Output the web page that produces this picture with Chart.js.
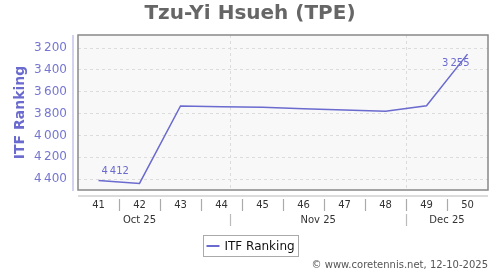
<!DOCTYPE html>
<html>
<head>
<meta charset="utf-8">
<script src="https://cdn.jsdelivr.net/npm/chart.js@4.4.1/dist/chart.umd.min.js"></script>
<style>
  html, body { margin: 0; padding: 0; background: #fff; }
  #wrap { width: 500px; height: 270px; }
</style>
</head>
<body>
<div id="wrap"><canvas id="rankChart"></canvas></div>
<script>
const weeks = ['41', '42', '43', '44', '45', '46', '47', '48', '49', '50'];
const ranking = [4412, 4440, 3730, 3737, 3742, 3755, 3768, 3778, 3728, 3255];
const yTicks = [3200, 3400, 3600, 3800, 4000, 4200, 4400];
const months = ['Oct 25', 'Nov 25', 'Dec 25'];
const monthStarts = [Date.UTC(2025, 9, 1), Date.UTC(2025, 10, 1), Date.UTC(2025, 11, 1)];
const monthEnds = [Date.UTC(2025, 10, 1), Date.UTC(2025, 11, 1), Date.UTC(2026, 0, 1)];
const firstWeekMid = Date.UTC(2025, 9, 9, 12); // thursday noon of week 41

const lineColor = '#6a6acf';
const fmt = v => String(v).replace(/\B(?=(\d{3})+(?!\d))/g, '\u2009');

// date -> category index
const dateIdx = t => (t - firstWeekMid) / (7 * 86400000);

const extras = {
    id: 'extras',
    beforeDraw(chart) {
        const { ctx, chartArea: a } = chart;
        ctx.save();
        ctx.fillStyle = '#f8f8f8';
        ctx.fillRect(a.left, a.top, a.right - a.left, a.bottom - a.top);
        ctx.restore();
    },
    beforeDatasetsDraw(chart) {
        const { ctx, chartArea: a, scales: { x } } = chart;
        ctx.save();
        ctx.strokeStyle = '#dcdcdc';
        ctx.setLineDash([3, 3]);
        ctx.lineWidth = 1;
        monthStarts.forEach(t => {
            const px = Math.round(x.getPixelForValue(dateIdx(t))) + 0.5;
            if (px > a.left && px < a.right) {
                ctx.beginPath();
                ctx.moveTo(px, a.top);
                ctx.lineTo(px, a.bottom);
                ctx.stroke();
            }
        });
        ctx.restore();
    },
    afterDraw(chart) {
        const { ctx, chartArea: a, scales: { x } } = chart;
        ctx.save();
        // plot frame
        ctx.strokeStyle = '#888';
        ctx.lineWidth = 1.5;
        ctx.strokeRect(a.left, a.top, a.right - a.left, a.bottom - a.top);
        // y axis line
        ctx.strokeStyle = '#c4c4ec';
        ctx.lineWidth = 1.5;
        ctx.beginPath();
        ctx.moveTo(a.left - 5, a.top);
        ctx.lineTo(a.left - 5, a.bottom + 1);
        ctx.stroke();
        // x axis line
        ctx.strokeStyle = '#cfcfcf';
        ctx.lineWidth = 1.5;
        ctx.beginPath();
        ctx.moveTo(a.left, a.bottom + 6);
        ctx.lineTo(a.right, a.bottom + 6);
        ctx.stroke();
        // week separators
        ctx.strokeStyle = '#aaa';
        ctx.lineWidth = 1.2;
        for (let i = 0; i < weeks.length - 1; i++) {
            const px = Math.round(x.getPixelForValue(i + 0.5)) + 0.5;
            ctx.beginPath();
            ctx.moveTo(px, a.bottom + 9);
            ctx.lineTo(px, a.bottom + 21);
            ctx.stroke();
        }
        // month labels and dividers
        const axisEnd = weeks.length - 0.5;
        ctx.font = '10px "DejaVu Sans"';
        ctx.fillStyle = '#333';
        ctx.textAlign = 'center';
        ctx.textBaseline = 'middle';
        months.forEach((m, i) => {
            const s = dateIdx(monthStarts[i]);
            const e = Math.min(dateIdx(monthEnds[i]), axisEnd);
            ctx.fillText(m, x.getPixelForValue((s + e) / 2), a.bottom + 30);
            const px = Math.round(x.getPixelForValue(s)) + 0.5;
            if (px > a.left && px < a.right) {
                ctx.strokeStyle = '#bbb';
                ctx.beginPath();
                ctx.moveTo(px, a.bottom + 24);
                ctx.lineTo(px, a.bottom + 36);
                ctx.stroke();
            }
        });
        // data labels on first and last point
        const meta = chart.getDatasetMeta(0);
        ctx.font = '10px "DejaVu Sans"';
        ctx.fillStyle = lineColor;
        const p0 = meta.data[0];
        ctx.textAlign = 'left';
        ctx.fillText(fmt(ranking[0]), p0.x + 3, p0.y - 9);
        const pn = meta.data[ranking.length - 1];
        ctx.textAlign = 'right';
        ctx.fillText(fmt(ranking[ranking.length - 1]), pn.x + 2, pn.y + 9);
        // legend
        ctx.font = '12px "DejaVu Sans"';
        const label = 'ITF Ranking';
        const tw = ctx.measureText(label).width;
        const bw = Math.round(tw + 25), bh = 21;
        const bx = Math.round((chart.width - bw) / 2) + 0.5, by = 235.5;
        ctx.fillStyle = '#fff';
        ctx.fillRect(bx, by, bw, bh);
        ctx.strokeStyle = '#aaa';
        ctx.lineWidth = 1;
        ctx.strokeRect(bx, by, bw, bh);
        ctx.strokeStyle = lineColor;
        ctx.lineWidth = 2;
        ctx.beginPath();
        ctx.moveTo(bx + 3, by + bh / 2);
        ctx.lineTo(bx + 16, by + bh / 2);
        ctx.stroke();
        ctx.fillStyle = '#111';
        ctx.textAlign = 'left';
        ctx.fillText(label, bx + 21, by + bh / 2 + 1);
        // footer
        ctx.font = '10px "DejaVu Sans"';
        ctx.fillStyle = '#555';
        ctx.textAlign = 'right';
        ctx.fillText('\u00a9 www.coretennis.net, 12-10-2025', 488, 265);
        ctx.restore();
    }
};

new Chart(document.getElementById('rankChart'), {
    type: 'line',
    data: {
        labels: weeks,
        datasets: [{
            label: 'ITF Ranking',
            data: ranking,
            borderColor: lineColor,
            borderWidth: 1.5,
            pointRadius: 0,
            tension: 0,
            fill: false,
        }],
    },
    options: {
        responsive: true,
        maintainAspectRatio: false,
        animation: false,
        layout: { padding: { left: 12, right: 12, top: 0, bottom: 0 } },
        plugins: {
            legend: { display: false },
            tooltip: { enabled: false },
            title: {
                display: true,
                text: 'Tzu-Yi Hsueh (TPE)',
                color: '#666',
                font: { family: 'DejaVu Sans', size: 20, weight: 'bold' },
                padding: { top: 2, bottom: 9 },
            },
        },
        scales: {
            x: {
                offset: true,
                grid: { display: false },
                border: { display: false },
                ticks: {
                    color: '#333',
                    font: { family: 'DejaVu Sans', size: 10 },
                    padding: 1,
                    maxRotation: 0,
                    autoSkip: false,
                },
                afterFit: s => { s.height = 80; },
            },
            y: {
                reverse: true,
                min: 3080,
                max: 4500,
                afterBuildTicks: s => { s.ticks = yTicks.map(v => ({ value: v })); },
                grid: {
                    color: '#dcdcdc',
                    drawTicks: false,
                },
                border: { display: false, dash: [3, 3] },
                ticks: {
                    color: '#7676d2',
                    font: { family: 'DejaVu Sans', size: 12 },
                    padding: 11,
                    callback: v => fmt(v),
                },
                title: {
                    display: true,
                    text: 'ITF Ranking',
                    color: '#6a6acf',
                    font: { family: 'DejaVu Sans', size: 14, weight: 'bold' },
                    padding: { top: 0, bottom: 0 },
                },
                afterFit: s => { s.width = 66; },
            },
        },
    },
    plugins: [extras],
});
</script>
</body>
</html>
